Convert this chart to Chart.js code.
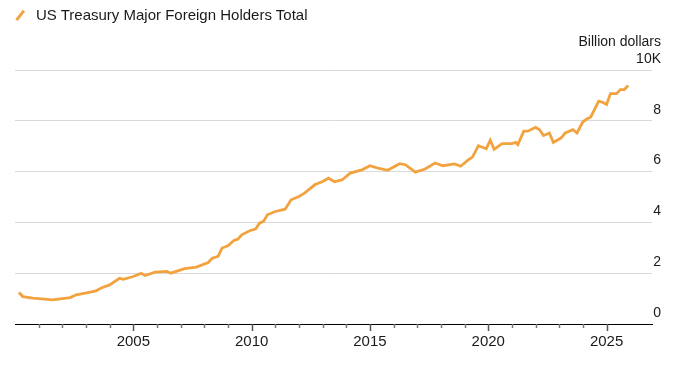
<!DOCTYPE html>
<html>
<head>
<meta charset="utf-8">
<script src="https://cdn.jsdelivr.net/npm/chart.js@4.4.1/dist/chart.umd.min.js"></script>
<style>
    body { margin: 0; background: #fff; font-family: "Liberation Sans", Arial, sans-serif; color: #1a1a1a; }
    .wrap { position: relative; width: 700px; height: 372px; }
    #chart { position: absolute; left: 0; top: 0; }
    .legend { position: absolute; left: 14px; top: 6px; font-size: 15px; line-height: 18px; }
    .legend .swatch { display: inline-block; width: 12px; height: 2.5px; background: #F2A33F; transform: rotate(-52deg); vertical-align: middle; margin: 0 10px 2px 0; }
    .unit { position: absolute; right: 39px; top: 33px; font-size: 14px; line-height: 17px; }
</style>
</head>
<body>
<div class="wrap">
    <canvas id="chart" width="700" height="372"></canvas>
    <div class="legend"><span class="swatch"></span>US Treasury Major Foreign Holders Total</div>
    <div class="unit">Billion dollars</div>
</div>
<script>
// values, thousand billion dollars
const months = [
    '2000-03','2000-05','2000-10','2001-04','2001-08','2002-01','2002-05','2002-08','2003-02','2003-06',
    '2003-09','2004-01','2004-06','2004-08','2005-01','2005-05','2005-07','2005-12','2006-06','2006-08',
    '2007-03','2007-09','2008-03','2008-05','2008-08','2008-10','2009-01','2009-04','2009-06','2009-08',
    '2009-12','2010-03','2010-05','2010-07','2010-09','2011-01','2011-06','2011-09','2012-01','2012-04',
    '2012-09','2013-01','2013-04','2013-07','2013-11','2014-03','2014-09','2015-01','2015-05','2015-10',
    '2016-04','2016-07','2016-12','2017-05','2017-10','2018-02','2018-08','2018-11','2019-03','2019-05',
    '2019-08','2019-12','2020-02','2020-04','2020-08','2021-01','2021-03','2021-04','2021-07','2021-09',
    '2022-01','2022-03','2022-05','2022-08','2022-10','2023-02','2023-04','2023-08','2023-10','2024-01',
    '2024-03','2024-05','2024-09','2024-11','2025-01','2025-03','2025-06','2025-08','2025-10','2025-12'
];
const holdings = [
    1.24, 1.08, 1.02, 0.98, 0.95, 1.00, 1.04, 1.15, 1.24, 1.30,
    1.43, 1.54, 1.80, 1.76, 1.87, 2.00, 1.91, 2.04, 2.07, 2.00,
    2.18, 2.24, 2.42, 2.59, 2.66, 2.99, 3.08, 3.29, 3.34, 3.51,
    3.67, 3.74, 3.97, 4.04, 4.30, 4.43, 4.52, 4.89, 5.02, 5.16,
    5.48, 5.61, 5.74, 5.60, 5.68, 5.94, 6.07, 6.23, 6.14, 6.05,
    6.31, 6.27, 5.98, 6.10, 6.34, 6.23, 6.30, 6.21, 6.47, 6.57,
    7.02, 6.90, 7.24, 6.88, 7.10, 7.10, 7.15, 7.06, 7.59, 7.59,
    7.74, 7.65, 7.42, 7.52, 7.15, 7.33, 7.52, 7.65, 7.52, 7.96,
    8.07, 8.15, 8.77, 8.73, 8.64, 9.07, 9.07, 9.23, 9.23, 9.39
];
const yTicks = [0, 2, 4, 6, 8, 10];
const labeledYears = [2005, 2010, 2015, 2020, 2025];

function toYear(m){
    let p = m.split('-');
    return Number(p[0]) + (Number(p[1]) - 1) / 12;
}

let points = [];
months.forEach(function (m, i){
    points.push({x: toYear(m), y: holdings[i]});
})

// small and big tick marks under the x axis
const xTickMarks = {
    id: 'xTickMarks',
    afterDraw(chart){
        let scale = chart.scales.x;
        let ctx = chart.ctx;
        ctx.save();
        ctx.lineWidth = 1.5;
        scale.ticks.forEach(t => {
            let px = Math.round(scale.getPixelForValue(t.value)) + 0.5;
            let big = labeledYears.includes(t.value);
            ctx.strokeStyle = big ? '#555' : '#777';
            ctx.beginPath();
            ctx.moveTo(px, scale.top);
            ctx.lineTo(px, scale.top + (big ? 7 : 4));
            ctx.stroke();
        })
        ctx.restore();
    }
};

let myChart = new Chart(document.getElementById('chart').getContext('2d'), {
    type: 'line',
    data: {
        datasets: [{
            label: 'US Treasury Major Foreign Holders Total',
            data: points,
            borderColor: '#F2A33F',
            borderWidth: 2.8,
            pointRadius: 0,
            tension: 0,
            fill: false
        }]
    },
    options: {
        responsive: false,
        animation: false,
        layout: { padding: { left: 15, right: 39, top: 70, bottom: 8 } },
        plugins: { legend: { display: false }, tooltip: { enabled: false } },
        scales: {
            x: {
                type: 'linear',
                min: 2000,
                max: 2026.92,
                afterBuildTicks: function (scale){
                    scale.ticks = scale.ticks.filter(t => Number.isInteger(t.value) && t.value >= 2001 && t.value <= 2025);
                },
                afterFit: function (scale){ scale.height = 40; },
                ticks: {
                    stepSize: 1,
                    autoSkip: false,
                    maxRotation: 0,
                    padding: 9,
                    color: '#1a1a1a',
                    font: { family: '"Liberation Sans", Arial, sans-serif', size: 15 },
                    callback: function (v){ return labeledYears.includes(v) ? String(v) : ''; }
                },
                grid: { display: false, drawTicks: false },
                border: { display: true, color: '#000', width: 1 }
            },
            y: {
                position: 'right',
                min: 0,
                max: 10,
                afterBuildTicks: function (scale){
                    scale.ticks = yTicks.map(v => ({value: v}));
                },
                afterFit: function (scale){ scale.width = 9; },
                ticks: {
                    mirror: true,
                    crossAlign: 'near',
                    labelOffset: -11,
                    padding: 9,
                    color: '#1a1a1a',
                    font: { family: '"Liberation Sans", Arial, sans-serif', size: 14 },
                    callback: function (v){ return v === 10 ? '10K' : String(v); }
                },
                grid: { color: '#d9d9d9', lineWidth: 1, drawTicks: false },
                border: { display: false }
            }
        }
    },
    plugins: [xTickMarks]
});
</script>
</body>
</html>
